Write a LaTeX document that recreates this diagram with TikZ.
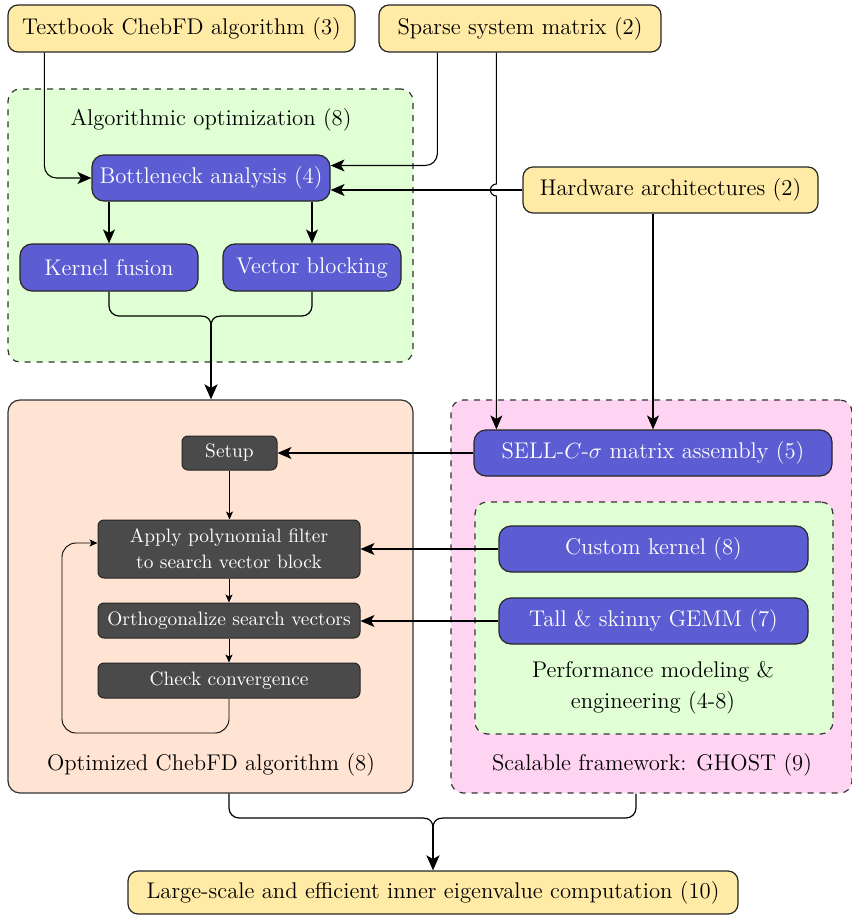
\documentclass[tikz,border=0pt]{standalone}
\usetikzlibrary{arrows.meta,calc}
\definecolor{cyellow}{HTML}{FFEBA5}
\definecolor{cblue}{HTML}{5D5DD3}
\definecolor{cgreen}{HTML}{E1FFD5}
\definecolor{cpeach}{HTML}{FFE4D3}
\definecolor{cpink}{HTML}{FFD4F3}
\definecolor{cdark}{HTML}{4A4A4A}
\tikzset{
  base/.style={draw=black!85, line width=0.6pt, inner sep=0pt, align=center, font=\fontsize{11.35}{15.5}\selectfont},
  ybox/.style={base, fill=cyellow, rounded corners=5pt},
  bbox/.style={base, fill=cblue, text=white, rounded corners=6pt},
  dbox/.style={base, fill=cdark, text=white, rounded corners=3pt, line width=0.5pt, font=\fontsize{9.7}{13}\selectfont},
  cont/.style={draw=black!80, line width=0.6pt, rounded corners=6pt, inner sep=0pt},
  lbl/.style={inner sep=0pt, align=center, font=\fontsize{11.35}{15.5}\selectfont},
  arr/.style={line width=0.55pt, -{Stealth[length=7pt,width=6pt,inset=1.8pt]}},
  tarr/.style={line width=1pt, -{Stealth[length=7.5pt,width=6.5pt,inset=1.8pt]}},
  sarr/.style={line width=0.45pt, -{Stealth[length=4pt,width=3.5pt,inset=1pt]}},
  brc/.style={line width=0.6pt}
}
\begin{document}
\begin{tikzpicture}[x=0.5pt,y=-0.5pt]
\useasboundingbox (0,0) rectangle (851,915);
% containers
\node[cont, dashed, fill=cgreen, minimum width=202.5pt, minimum height=136.5pt] (algo) at (210.5,225.5) {};
\node[cont, fill=cpeach, minimum width=202.5pt, minimum height=196.5pt] (opt) at (210.5,596.5) {};
\node[cont, dashed, fill=cpink, minimum width=200.5pt, minimum height=196.5pt] (scal) at (651.5,596.5) {};
\node[cont, dashed, fill=cgreen, minimum width=179pt, minimum height=116pt] (perf) at (654,618) {};
% labels
\node[lbl] (algolbl) at (211,120) {Algorithmic optimization (8)};
\node[lbl] (optlbl) at (211,765) {Optimized ChebFD algorithm (8)};
\node[lbl] (scallbl) at (652,765) {Scalable framework: GHOST (9)};
\node[lbl] (perflbl) at (653,688) {Performance modeling \&\\engineering (4-8)};
% top nodes
\node[ybox, minimum width=173.5pt, minimum height=23.5pt] (textbook) at (181.5,28.5) {Textbook ChebFD algorithm (3)};
\node[ybox, minimum width=141pt, minimum height=23.5pt] (sparse) at (520,28.5) {Sparse system matrix (2)};
\node[ybox, minimum width=147.5pt, minimum height=23pt] (hw) at (670.5,190) {Hardware architectures (2)};
% algorithmic
\node[bbox, minimum width=119pt, minimum height=23pt] (bn) at (211,178) {Bottleneck analysis (4)};
\node[bbox, minimum width=89pt, minimum height=23.5pt] (kf) at (109,267.5) {Kernel fusion};
\node[bbox, minimum width=89pt, minimum height=23.5pt] (vb) at (312,267.5) {Vector blocking};
% optimized
\node[dbox, minimum width=47.5pt, minimum height=17pt] (setup) at (229.5,453) {Setup};
\node[dbox, minimum width=131pt, minimum height=29pt] (apply) at (229,549) {Apply polynomial filter\\to search vector block};
\node[dbox, minimum width=131pt, minimum height=17.5pt] (orth) at (229,620.5) {Orthogonalize search vectors};
\node[dbox, minimum width=131pt, minimum height=17.5pt] (check) at (229,680.5) {Check convergence};
% scalable
\node[bbox, minimum width=179pt, minimum height=23pt] (sell) at (653,453) {SELL-$C$-$\sigma$ matrix assembly (5)};
\node[bbox, minimum width=154.5pt, minimum height=23pt] (custom) at (653.5,549) {Custom kernel (8)};
\node[bbox, minimum width=154.5pt, minimum height=23pt] (tall) at (653.5,621) {Tall \& skinny GEMM (7)};
% bottom
\node[ybox, minimum width=305pt, minimum height=21.5pt] (result) at (433,892.5) {Large-scale and efficient inner eigenvalue computation (10)};
% coordinates
\coordinate (s2) at ([xshift=59pt]sparse.south west);
\coordinate (j1) at (211,326);
\coordinate (j2) at (433,828);
\coordinate (lp) at (62,733);
% connectors top
\draw[arr, rounded corners=6pt] ([xshift=18.5pt]textbook.south west) |- (bn.west);
\draw[arr, rounded corners=6pt] ([xshift=29.5pt]sparse.south west) |- ([yshift=6.25pt]bn.east);
\draw[arr] (hw.west) -- (hw.west -| bn.east);
\draw[arr] (s2) -- ([yshift=3pt]s2 |- hw.west) arc[start angle=90, end angle=270, radius=3pt] -- (s2 |- sell.north);
\draw[arr] ([xshift=-8.75pt]hw.south) -- ([xshift=-8.75pt]hw.south |- sell.north);
\draw[arr] (bn.south -| kf.north) -- (kf.north);
\draw[arr] (bn.south -| vb.north) -- (vb.north);
% brace 1
\draw[brc, rounded corners=5pt] (kf.south) |- ($(j1)+(-10,-10)$);
\draw[brc] ($(j1)+(-10,-10)$) .. controls ($(j1)+(-3,-10)$) and ($(j1)+(0,-6)$) .. (j1);
\draw[brc, rounded corners=5pt] (vb.south) |- ($(j1)+(10,-10)$);
\draw[brc] ($(j1)+(10,-10)$) .. controls ($(j1)+(3,-10)$) and ($(j1)+(0,-6)$) .. (j1);
\draw[tarr] (j1) -- (j1 |- opt.north);
% scalable to optimized
\draw[arr] (sell.west) -- (setup.east);
\draw[arr] (custom.west) -- (custom.west -| apply.east);
\draw[arr] (tall.west) -- (tall.west -| orth.east);
% inner flow
\draw[sarr] (setup.south) -- (setup.south |- apply.north);
\draw[sarr] (apply.south) -- (orth.north);
\draw[sarr] (orth.south) -- (check.north);
\draw[sarr, rounded corners=7pt] (check.south) |- (lp) |- ([yshift=3pt]apply.west);
% brace 2
\draw[brc, rounded corners=5pt] ([xshift=9.25pt]opt.south) |- ($(j2)+(-10,-10)$);
\draw[brc] ($(j2)+(-10,-10)$) .. controls ($(j2)+(-3,-10)$) and ($(j2)+(0,-6)$) .. (j2);
\draw[brc, rounded corners=5pt] ([xshift=-7.75pt]scal.south) |- ($(j2)+(10,-10)$);
\draw[brc] ($(j2)+(10,-10)$) .. controls ($(j2)+(3,-10)$) and ($(j2)+(0,-6)$) .. (j2);
\draw[tarr] (j2) -- (j2 |- result.north);
\end{tikzpicture}
\end{document}
